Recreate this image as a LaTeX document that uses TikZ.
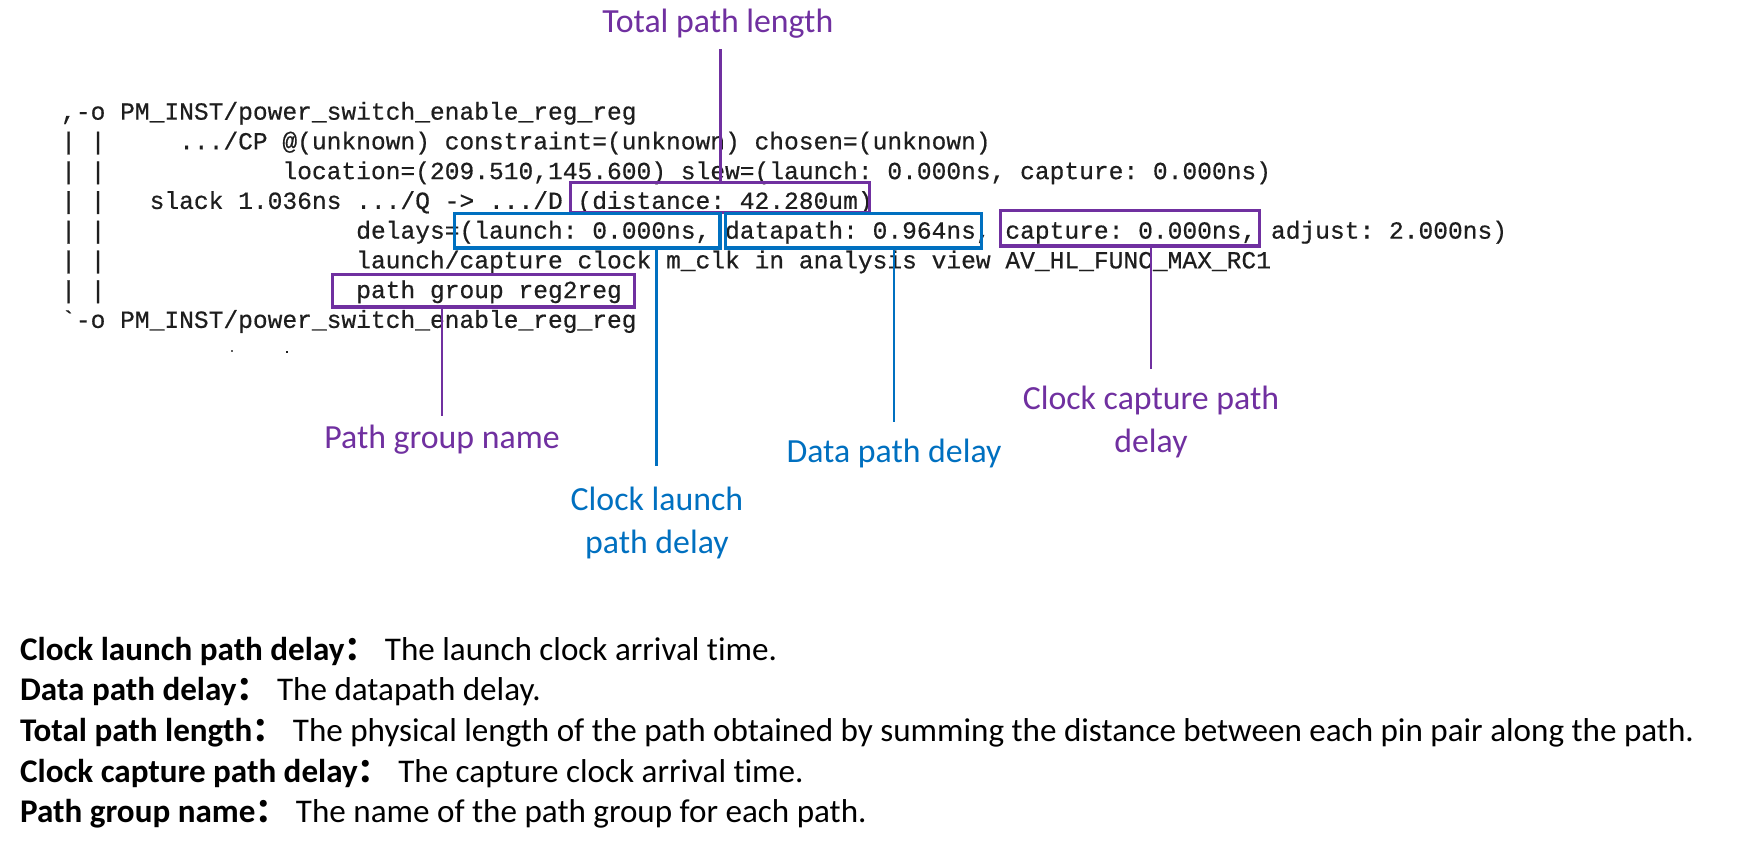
\documentclass[tikz,border=0pt]{standalone}
\usepackage{fontspec}
\setmainfont{Carlito}[Ligatures={TeX,NoCommon}]
\setmonofont{Liberation Mono}[FakeBold=0.5]
\newfontfamily\cjk{Noto Sans CJK SC}
\definecolor{pp}{HTML}{7030A0}
\definecolor{bl}{HTML}{0070C0}
\definecolor{codec}{HTML}{1E1E1E}
\newcommand{\kf}{1.1078}
\tikzset{
  code/.style={anchor=base west, inner sep=0pt, text=codec, font=\ttfamily\fontsize{24.59}{28}\selectfont},
  pbox/.style={draw=pp, line width=3.3pt, inner sep=0pt},
  bbox/.style={draw=bl, line width=3.3pt, inner sep=0pt},
  plbl/.style={text=pp, inner sep=0pt, align=center, font=\fontsize{33.8}{43.8}\selectfont},
  blbl/.style={text=bl, inner sep=0pt, align=center, font=\fontsize{33.8}{42.6}\selectfont},
  pline/.style={draw=pp, line width=2.9pt},
  bline/.style={draw=bl, line width=2.9pt},
  desc/.style={anchor=base west, inner sep=0pt, text=black, font=\fontsize{33.1}{38}\selectfont}
}
\newcommand{\cw}{13.32}
\newcommand{\fc}{{\cjk\bfseries ：}}
\begin{document}
\begin{tikzpicture}[x=1.1078pt,y=-1.1078pt]
\useasboundingbox[fill=white] (0,0) rectangle (1568,766.4);
% code lines
\node[code] (c1) at (55,108) {,-o PM\_INST/power\_switch\_enable\_reg\_reg};
\foreach \i in {1,...,6} {
  \node[code] (bar\i) at (55,108+\i*26.85) {| |};
}
\node[code] (c2) at (55+8*\cw,108+1*26.85) {.../CP @(unknown) constraint=(unknown) chosen=(unknown)};
\node[code] (c3) at (55+15*\cw,108+2*26.85) {location=(209.510,145.600) slew=(launch: 0.000ns, capture: 0.000ns)};
\node[code] (c4) at (55+6*\cw,108+3*26.85) {slack 1.036ns .../Q -> .../D (distance: 42.280um)};
\node[code] (c5) at (55+20*\cw,108+4*26.85) {delays=(launch: 0.000ns, datapath: 0.964ns, capture: 0.000ns, adjust: 2.000ns)};
\node[code] (c6) at (55+20*\cw,108+5*26.85) {launch/capture clock m\_clk in analysis view AV\_HL\_FUNC\_MAX\_RC1};
\node[code] (c7) at (55+20*\cw,108+6*26.85) {path group reg2reg};
\node[code] (c8) at (55,108+7*26.85) {`-o PM\_INST/power\_switch\_enable\_reg\_reg};
% remnants of a cut-off line
\fill[codec!70] (208.6,316) rectangle (210.2,317.6);
\fill[codec] (258,316.6) rectangle (260.2,318.8);
% boxes
\node[pbox, minimum width=\kf*270pt, minimum height=\kf*27pt] (dist) at (650,178.5) {};
\node[bbox, minimum width=\kf*240pt, minimum height=\kf*31pt] (launch) at (530,208.5) {};
\node[bbox, minimum width=\kf*231pt, minimum height=\kf*31pt] (datap) at (770.5,208.5) {};
\node[pbox, minimum width=\kf*234pt, minimum height=\kf*32pt] (capt) at (1020,206) {};
\node[pbox, minimum width=\kf*273pt, minimum height=\kf*29pt] (pgrp) at (436.5,262.5) {};
% labels
\node[plbl] (ttl) at (648,21) {Total path length};
\node[plbl] (pgn) at (399,397) {Path group name};
\node[blbl] (cll) at (593,472) {Clock launch\\path delay};
\node[blbl] (dpd) at (807,409) {Data path delay};
\node[plbl] (ccp) at (1039,381) {Clock capture path\\delay};
% connectors
\draw[pline, shorten >=11.1pt] (dist.north) -- (dist.north |- ttl.south);
\draw[pline, shorten >=8.8pt] (pgn.north |- pgrp.south) -- (pgn.north);
\draw[bline, shorten >=21.1pt] (cll.north |- launch.south) -- (cll.north);
\draw[bline, shorten >=16.6pt] (dpd.north |- datap.south) -- (dpd.north);
\draw[pline, shorten >=16.6pt] (ccp.north |- capt.south) -- (ccp.north);
% description
\node[desc] (d1) at (18,596) {\textbf{Clock launch path delay}\fc\ The launch clock arrival time.};
\node[desc] (d2) at (18,596+36.7) {\textbf{Data path delay}\fc\ The datapath delay.};
\node[desc] (d3) at (18,596+2*36.7) {\textbf{Total path length}\fc\ The physical length of the path obtained by summing the distance between each pin pair along the path.};
\node[desc] (d4) at (18,596+3*36.7) {\textbf{Clock capture path delay}\fc\ The capture clock arrival time.};
\node[desc] (d5) at (18,596+4*36.7) {\textbf{Path group name}\fc\ The name of the path group for each path.};
\end{tikzpicture}
\end{document}
